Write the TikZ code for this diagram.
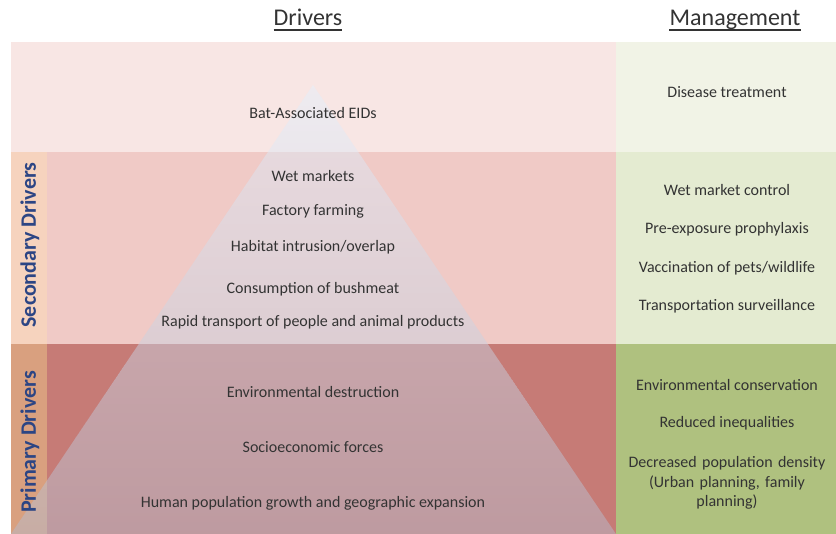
\documentclass[tikz,border=0pt]{standalone}
\usepackage{fontspec}
\setmainfont{Carlito}
\definecolor{topred}{HTML}{F8E6E4}
\definecolor{topgreen}{HTML}{F1F3E6}
\definecolor{secred}{HTML}{F0CAC6}
\definecolor{secgreen}{HTML}{E4EBD1}
\definecolor{primred}{HTML}{C67B76}
\definecolor{primgreen}{HTML}{AFC17F}
\definecolor{secside}{HTML}{F6D3BE}
\definecolor{primside}{HTML}{D9A07F}
\definecolor{pyrtop}{HTML}{E4F0FC}
\definecolor{pyrbot}{HTML}{B6BACB}
\definecolor{txt}{HTML}{333333}
\definecolor{navy}{HTML}{2C4584}
\tikzset{
    item/.style={text=txt,font=\fontsize{16}{19.5}\selectfont,align=center},
    head/.style={text=txt,font=\fontsize{24}{28}\selectfont,inner xsep=0pt,inner ysep=0pt,anchor=base},
    side/.style={text=navy,font=\fontsize{22}{26}\selectfont\bfseries,rotate=90},
    uline/.style={draw=txt,line width=1.6pt}
}
\begin{document}
\begin{tikzpicture}[x=1pt,y=-1pt]
        \useasboundingbox (0,0) rectangle (836,534);

        \fill[topred] (11,42) rectangle (616,152);% top band
        \fill[topgreen] (616,42) rectangle (836,152);
        \fill[secred] (47,152) rectangle (616,344);% secondary band
        \fill[secgreen] (616,152) rectangle (836,344);
        \fill[primred] (47,344) rectangle (616,534);% primary band
        \fill[primgreen] (616,344) rectangle (836,534);
        \fill[secside] (11,152) rectangle (47,344);% side labels
        \fill[primside] (11,344) rectangle (47,534);

        % pyramid, lighter at the top, mixed with each band
        \begin{scope}
        \clip (313,85) -- (616,534) -- (11,534) -- cycle;
        \foreach \ya/\yb/\band/\xa/\xb in {85/152/topred/0/836,152/344/secred/0/836,344/534/primred/47/836,344/534/primside/0/47}{
            \pgfmathtruncatemacro\n{(\yb-\ya)/3}
            \foreach \k in {1,...,\n}{
                \pgfmathsetmacro\ta{\ya+(\k-1)*(\yb-\ya)/\n}
                \pgfmathsetmacro\tb{\ya+\k*(\yb-\ya)/\n}
                \pgfmathtruncatemacro\p{(534-(\ta+\tb)/2)/4.49}
                \fill[pyrtop!\p!pyrbot!50!\band] (\xa,\ta) rectangle (\xb,\tb+0.4);
            }
        }
        \end{scope}

        \node[head] (drivers) at (308,26) {Drivers};
        \node[head] (management) at (735,26) {Management};
        \draw[uline] ([yshift=-4pt]drivers.base west) -- ([yshift=-4pt]drivers.base east);% underline
        \draw[uline] ([yshift=-4pt]management.base west) -- ([yshift=-4pt]management.base east);% underline

        \node[side] (secondary) at (30,245) {Secondary Drivers};
        \node[side] (primary) at (30,442) {Primary Drivers};

        \node[item] (eids) at (313,113) {Bat-Associated EIDs};
        \node[item] (wet) at (313,176) {Wet markets};
        \node[item] (factory) at (313,211) {Factory farming};
        \node[item] (habitat) at (313,247) {Habitat intrusion/overlap};
        \node[item] (bushmeat) at (313,289) {Consumption of bushmeat};
        \node[item] (transport) at (313,322) {Rapid transport of people and animal products};
        \node[item] (destruction) at (313,392) {Environmental destruction};
        \node[item] (forces) at (313,447) {Socioeconomic forces};
        \node[item] (growth) at (313,503) {Human population growth and geographic expansion};

        \node[item] (treatment) at (727,92) {Disease treatment};
        \node[item] (control) at (727,190) {Wet market control};
        \node[item] (prophylaxis) at (727,229) {Pre-exposure prophylaxis};
        \node[item] (vaccination) at (727,268) {Vaccination of pets/wildlife};
        \node[item] (surveillance) at (727,306) {Transportation surveillance};
        \node[item] (conservation) at (727,385) {Environmental conservation};
        \node[item] (inequalities) at (727,423) {Reduced inequalities};
        \node[item,text width=210pt] (density) at (727,483) {Decreased population density\\(Urban planning, family\\planning)};

    \end{tikzpicture}
\end{document}
